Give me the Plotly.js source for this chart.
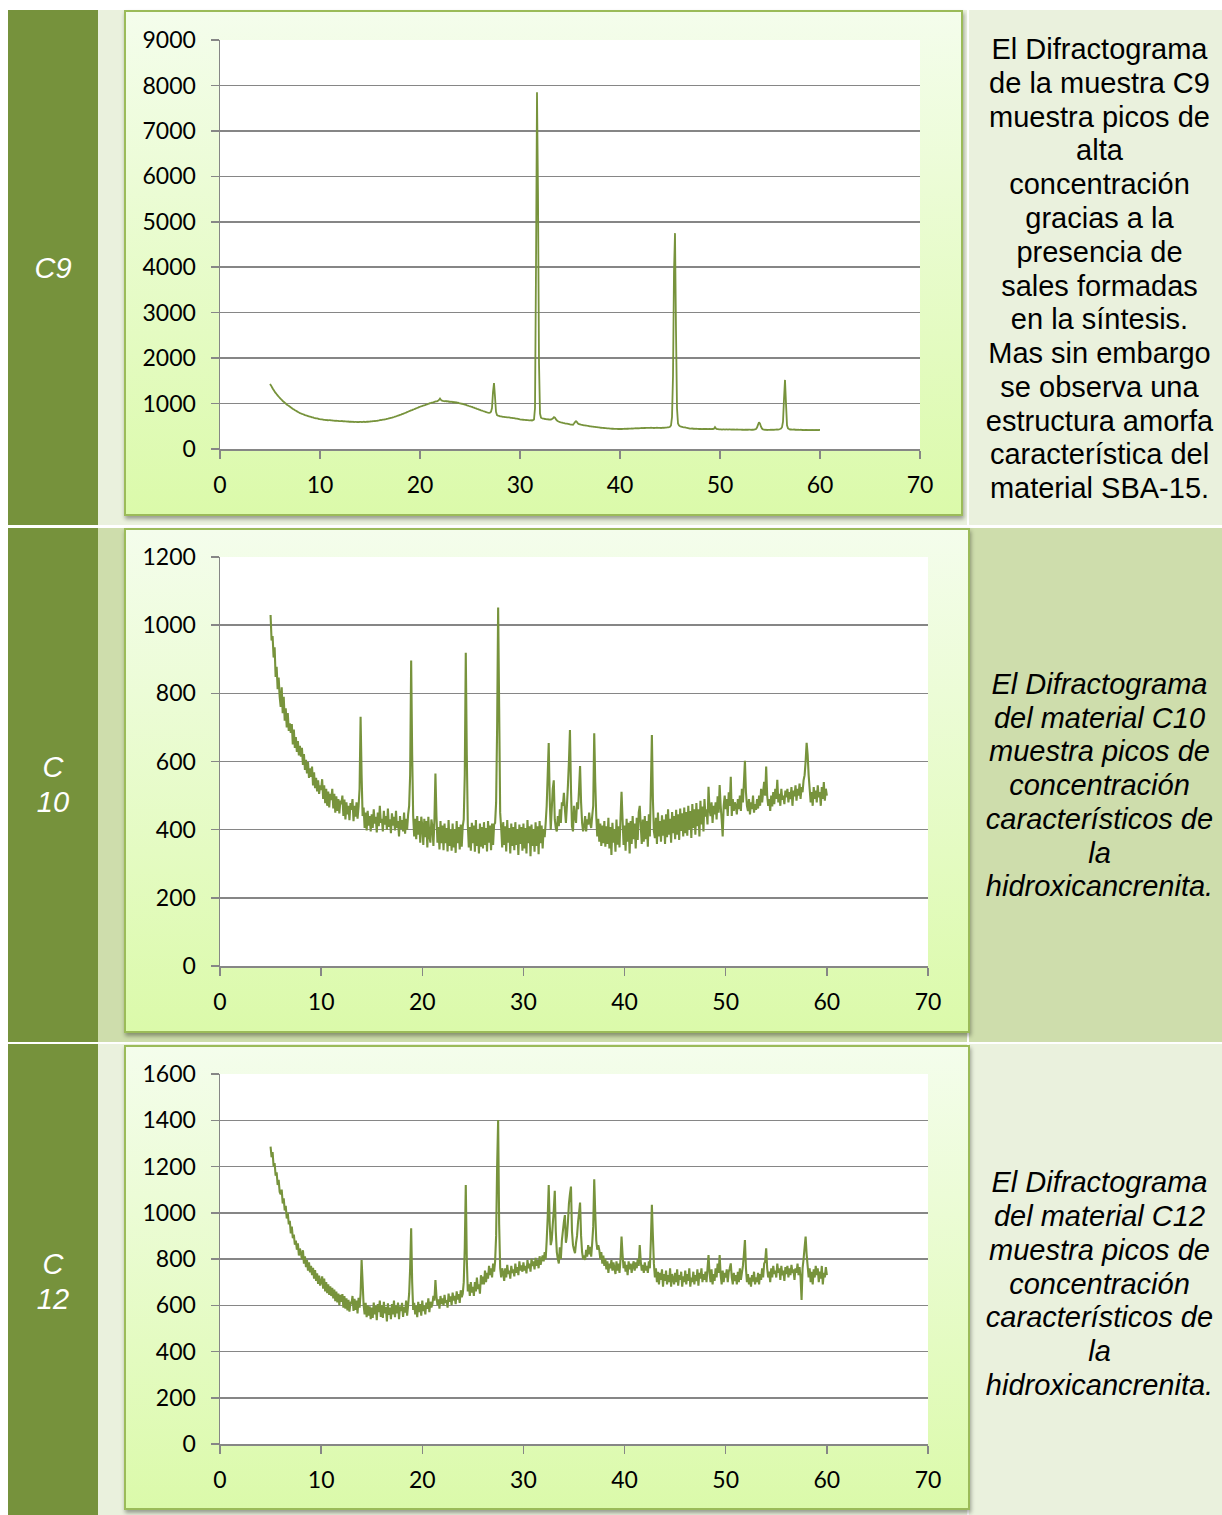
<!DOCTYPE html>
<html>
<head>
<meta charset="utf-8">
<script src="https://cdn.plot.ly/plotly-3.0.1.min.js"></script>
<style>
  html, body { margin: 0; padding: 0; background: #ffffff; }
  #page { position: relative; width: 1222px; height: 1515px; overflow: hidden; background: #ffffff; }
  .cell { position: absolute; box-sizing: border-box; }
  .label {
    display: flex; align-items: center; justify-content: center; text-align: center;
    color: #ffffff; font-family: "Liberation Sans", Arial, sans-serif; font-style: italic;
    font-size: 29px; line-height: 35px; background: #76923C;
  }
  .desc {
    display: flex; align-items: center; justify-content: center; text-align: center;
    color: #000000; font-family: "Liberation Sans", Arial, sans-serif;
    font-size: 29px; line-height: 33.8px; white-space: nowrap; padding-left: 8px;
  }
  .desc.it { font-style: italic; }
  .box {
    position: absolute; box-sizing: border-box; border: 2px solid #9BBB59;
    background: linear-gradient(#F4FDEC, #DBFAAA);
    box-shadow: 1px 3px 4px rgba(0, 0, 0, 0.35);
  }
  .plot { position: absolute; }
</style>
</head>
<body>
<div id="page"></div>
<script>
// Sample names shown in the left column
const sampleLabels = ["C9", "C<br>10", "C<br>12"];

// Comments shown in the right column
const descriptions = [
  "El Difractograma<br>de la muestra C9<br>muestra picos de<br>alta<br>concentración<br>gracias a la<br>presencia de<br>sales formadas<br>en la síntesis.<br>Mas sin embargo<br>se observa una<br>estructura amorfa<br>característica del<br>material SBA-15.",
  "El Difractograma<br>del material C10<br>muestra picos de<br>concentración<br>característicos de<br>la<br>hidroxicancrenita.",
  "El Difractograma<br>del material C12<br>muestra picos de<br>concentración<br>característicos de<br>la<br>hidroxicancrenita."
];

// 2θ scan: starts at 5°, one reading every 0.1°, up to 60°
const twoThetaStart = 5;
const twoThetaStep = 0.1;

// Axis ranges of each diffractogram
const xRange = [0, 70];
const yRanges = [[0, 9000], [0, 1200], [0, 1600]];
const yTickSteps = [1000, 200, 200];

// C9 intensity (counts), one row per degree
const c9Intensity = [
1430,1400,1360,1320,1285,1250,1225,1195,1170,1145,
1120,1095,1075,1050,1035,1015,995,975,960,945,
930,912,898,880,868,852,840,828,815,802,
790,782,772,765,755,745,740,732,725,718,
710,706,698,694,686,682,676,672,666,660,
655,652,650,646,640,642,636,638,632,634,
635,628,630,624,626,620,622,618,620,614,
615,612,616,608,610,606,608,602,606,600,
600,604,598,600,594,598,596,592,598,594,
595,598,592,596,600,594,598,602,600,604,
605,608,606,612,614,616,620,618,626,630,
635,638,642,646,648,654,658,664,668,674,
680,686,690,698,704,712,718,726,734,742,
750,756,766,774,782,792,800,810,820,830,
840,848,856,866,874,884,892,902,910,920,
930,936,946,952,960,966,976,982,990,1000,
1010,1014,1022,1026,1034,1040,1046,1050,1060,1080,
1110,1080,1066,1060,1056,1050,1058,1046,1052,1040,
1040,1036,1042,1030,1034,1024,1028,1018,1020,1010,
1005,1000,996,990,982,976,970,960,954,946,
940,932,926,916,910,900,894,884,876,868,
860,852,846,836,830,820,814,806,800,796,
800,820,900,1250,1450,1150,820,745,735,728,
720,716,712,708,706,702,700,698,696,694,
690,686,684,680,678,674,670,666,662,656,
650,648,646,644,640,642,638,636,634,632,
630,632,628,634,650,900,4000,7850,5600,1900,
780,690,676,670,666,660,656,652,654,648,
650,646,658,676,700,690,650,626,610,600,
590,584,580,574,570,564,560,556,552,548,
540,538,536,534,560,590,610,590,560,545,
540,534,530,526,522,520,516,512,510,506,
500,498,494,492,488,486,482,480,478,474,
470,468,466,464,462,460,458,456,454,452,
450,448,446,446,444,444,442,442,440,440,
440,442,440,444,442,446,444,448,446,448,
450,448,452,450,454,452,456,454,458,456,
460,458,462,460,464,462,466,464,466,464,
465,468,464,466,462,466,464,468,466,464,
465,462,466,468,464,470,472,474,478,482,
490,520,700,1600,3900,4750,2600,900,560,520,
500,494,488,482,478,474,468,464,460,456,
450,448,452,446,448,444,446,442,444,440,
440,442,438,442,440,444,440,442,438,440,
440,438,442,440,446,480,450,438,436,434,
430,432,428,432,430,428,432,430,428,430,
430,428,432,426,430,428,426,430,426,428,
425,428,424,426,422,426,424,428,424,426,
425,422,426,424,428,430,440,470,530,590,
560,490,450,432,426,420,424,418,422,420,
420,424,420,426,422,428,426,430,428,432,
440,450,480,600,1100,1520,1000,520,455,440,
430,432,428,426,430,424,428,422,426,420,
420,424,418,422,416,420,418,422,416,418,
415,418,414,420,416,418,414,420,416,418,
420];

// C10 intensity (counts), one row per degree
const c10Intensity = [
1030,955,968,905,935,848,878,812,846,790,
760,818,742,790,720,756,700,742,690,712,
684,710,650,694,640,672,628,660,618,646,
614,640,590,622,575,605,565,598,552,580,
555,585,530,568,522,552,512,545,505,530,
516,548,490,530,478,520,470,512,465,505,
487,520,462,505,450,498,455,490,448,485,
475,500,440,488,430,480,445,470,428,478,
458,490,425,470,438,480,432,468,520,731,
560,440,465,405,450,398,455,412,440,395,
445,405,460,418,438,392,450,410,470,420,
432,395,455,415,440,400,462,408,430,390,
448,412,438,398,455,405,425,380,440,402,
428,395,450,388,432,400,445,470,560,896,
620,440,380,432,372,440,385,425,362,438,
412,355,432,378,425,348,438,382,362,430,
410,352,428,565,440,362,408,342,425,360,
412,340,418,360,405,336,428,352,400,338,
418,348,402,332,425,360,408,342,415,350,
410,430,560,919,620,415,348,408,338,420,
360,412,335,428,352,402,330,418,350,408,
345,422,355,405,336,425,362,412,340,418,
355,415,420,480,700,1052,760,450,405,348,
422,355,410,336,428,362,405,330,418,352,
408,340,422,355,402,326,415,358,408,338,
418,345,405,330,428,360,410,322,415,352,
402,335,422,352,410,328,425,360,412,345,
402,378,420,470,560,654,490,400,460,520,
545,430,405,395,440,410,460,420,480,470,
508,460,420,470,530,600,692,520,410,395,
470,440,420,480,460,520,587,480,420,395,
410,440,395,430,415,450,420,405,440,470,
683,540,440,380,432,365,418,352,412,360,
425,350,410,358,435,345,408,326,420,362,
402,335,430,356,410,348,435,511,432,355,
412,338,432,365,420,330,425,358,440,372,
418,345,435,370,450,470,410,358,430,365,
440,372,425,350,445,380,520,678,490,395,
375,435,358,450,380,425,365,442,382,430,
358,445,378,460,385,432,362,452,390,440,
372,458,385,445,370,462,396,448,380,465,
390,452,382,470,400,455,376,475,405,460,
385,478,410,460,380,485,415,468,395,490,
438,460,415,526,460,440,480,420,470,445,
480,430,498,450,531,470,430,380,470,500,
460,490,440,510,470,555,440,490,455,480,
470,445,490,460,500,455,520,480,540,602,
510,470,455,490,445,480,460,500,450,475,
458,490,462,500,470,520,480,510,540,500,
585,500,470,490,455,500,468,510,475,520,
490,546,480,505,470,520,488,500,475,515,
495,520,480,510,490,525,470,515,498,530,
485,520,500,535,490,525,510,545,560,600,
655,620,560,520,480,510,470,525,490,515,
480,530,495,510,470,525,490,540,485,520,
500];

// C12 intensity (counts), one row per degree
const c12Intensity = [
1286,1240,1262,1200,1215,1160,1175,1120,1142,1090,
1080,1100,1040,1062,1010,1030,975,1000,950,965,
911,940,890,905,862,880,840,868,815,845,
825,800,838,780,812,765,795,750,785,742,
770,730,762,715,752,705,738,692,728,685,
702,725,672,715,660,700,652,690,645,682,
640,675,630,668,618,659,612,650,600,645,
615,648,590,640,585,630,578,623,572,615,
605,640,575,628,580,620,565,632,590,650,
796,700,600,560,610,548,600,555,595,540,
590,545,612,560,598,535,605,570,620,550,
600,545,615,565,592,530,608,558,590,540,
605,560,620,548,598,565,612,540,595,575,
610,550,592,568,620,555,600,650,760,933,
700,580,610,560,598,548,615,570,605,555,
620,575,598,560,612,585,630,570,615,590,
605,640,620,709,640,600,625,585,640,605,
630,598,645,610,622,590,650,615,638,600,
655,620,640,605,660,625,648,610,665,635,
650,700,850,1120,800,660,690,640,700,655,
680,640,700,660,720,670,690,650,730,690,
724,690,750,700,740,715,770,730,760,720,
780,745,790,900,1200,1401,950,760,720,760,
740,705,760,720,775,735,750,715,770,740,
755,725,780,740,765,730,790,750,772,745,
785,750,770,738,795,760,780,745,800,770,
790,755,805,770,795,760,812,775,798,815,
790,830,800,880,980,1120,950,860,882,950,
1010,1095,920,830,800,781,850,800,880,920,
960,990,870,900,960,1040,1080,1113,920,860,
840,825,870,900,960,1000,1044,900,830,800,
815,796,840,810,860,820,853,810,870,940,
1145,1000,880,840,860,839,800,830,780,815,
770,800,755,790,740,780,760,795,750,785,
760,735,790,750,780,740,800,897,820,760,
790,745,775,730,790,755,780,740,770,790,
750,785,760,800,770,860,790,750,775,740,
785,750,770,740,790,760,880,1034,900,780,
720,760,700,745,690,740,710,755,680,735,
705,750,690,730,700,760,680,735,715,690,
740,700,755,685,730,710,745,680,725,700,
750,690,735,705,760,680,720,700,745,690,
730,705,755,685,740,715,760,700,735,710,
745,700,760,817,740,700,755,690,735,705,
760,720,780,740,817,730,690,750,700,740,
720,755,700,745,760,781,720,690,740,705,
730,690,745,700,760,710,740,770,820,882,
760,700,735,690,720,680,730,702,745,690,
720,700,740,690,735,710,760,720,780,790,
846,760,720,745,700,760,720,770,735,750,
720,780,740,760,710,770,730,750,705,765,
735,770,720,760,730,775,740,755,710,760,
740,780,730,765,720,623,760,800,850,897,
820,770,720,760,700,745,690,755,720,770,
730,760,700,745,715,770,690,740,720,765,
730];

const series = [c9Intensity, c10Intensity, c12Intensity];

// Page geometry: table rows, banded middle/right cells, chart frames
const rowGeom = [
  { top: 10,   height: 515, band: "#EAF1DD", italic: false, textShift: 4, labelShift: 2, lineWidth: 1.8,
    box: { left: 124, top: 10,   width: 839, height: 506 }, margin: { l: 96, r: 43, t: 30, b: 67 } },
  { top: 528,  height: 514, band: "#CEDDAC", italic: true, textShift: 2, labelShift: 0, lineWidth: 2.1,
    box: { left: 124, top: 528,  width: 846, height: 505 }, margin: { l: 96, r: 42, t: 29, b: 67 } },
  { top: 1044, height: 471, band: "#EAF1DD", italic: true, textShift: 10, labelShift: 5, lineWidth: 2.1,
    box: { left: 124, top: 1045, width: 846, height: 465 }, margin: { l: 96, r: 42, t: 29, b: 66 } }
];

const page = document.getElementById("page");
function addDiv(cls, style, html) {
  const d = document.createElement("div");
  d.className = cls;
  Object.assign(d.style, style);
  if (html !== undefined) d.innerHTML = html;
  page.appendChild(d);
  return d;
}

const gridGray = "#868686";
const lineGreen = "#77933C";
const tickFont = { family: "Lato, 'Open Sans', sans-serif", size: 23, color: "#000000" };

rowGeom.forEach((g, i) => {
  // left sample cell
  addDiv("cell label",
    { left: "8px", top: g.top + "px", width: "90px", height: g.height + "px", paddingTop: g.labelShift + "px" },
    sampleLabels[i]);
  // middle cell background
  addDiv("cell", { left: "98px", top: g.top + "px", width: "869px", height: g.height + "px", background: g.band });
  // right comment cell
  addDiv("cell desc" + (g.italic ? " it" : ""),
    { left: "969px", top: g.top + "px", width: "253px", height: g.height + "px", background: g.band, paddingTop: g.textShift + "px" },
    descriptions[i]);
  // chart frame
  addDiv("box", { left: g.box.left + "px", top: g.box.top + "px", width: g.box.width + "px", height: g.box.height + "px" });
  // plot
  const p = addDiv("plot", { left: g.box.left + "px", top: g.box.top + "px", width: g.box.width + "px", height: g.box.height + "px" });

  const trace = {
    type: "scatter", mode: "lines",
    x0: twoThetaStart, dx: twoThetaStep,
    y: series[i],
    line: { color: lineGreen, width: g.lineWidth, simplify: false },
    hoverinfo: "skip"
  };
  const layout = {
    width: g.box.width, height: g.box.height,
    margin: Object.assign({ pad: 0 }, g.margin),
    paper_bgcolor: "rgba(0,0,0,0)",
    plot_bgcolor: "#ffffff",
    showlegend: false,
    xaxis: {
      range: xRange, tick0: 0, dtick: 10, ticks: "outside", ticklen: 8,
      tickwidth: 1.5, tickcolor: gridGray, showline: true, linecolor: gridGray, linewidth: 1.5,
      showgrid: false, zeroline: false, tickfont: tickFont, ticklabelstandoff: 7, fixedrange: true
    },
    yaxis: {
      range: yRanges[i], tick0: 0, dtick: yTickSteps[i], ticks: "outside", ticklen: 8,
      tickwidth: 1.5, tickcolor: gridGray, showline: true, linecolor: gridGray, linewidth: 1.5,
      showgrid: true, gridcolor: gridGray, gridwidth: 1.5, zeroline: false,
      tickfont: tickFont, ticklabelstandoff: 10, fixedrange: true
    }
  };
  Plotly.newPlot(p, [trace], layout, { staticPlot: true, displayModeBar: false });
});
</script>
</body>
</html>
